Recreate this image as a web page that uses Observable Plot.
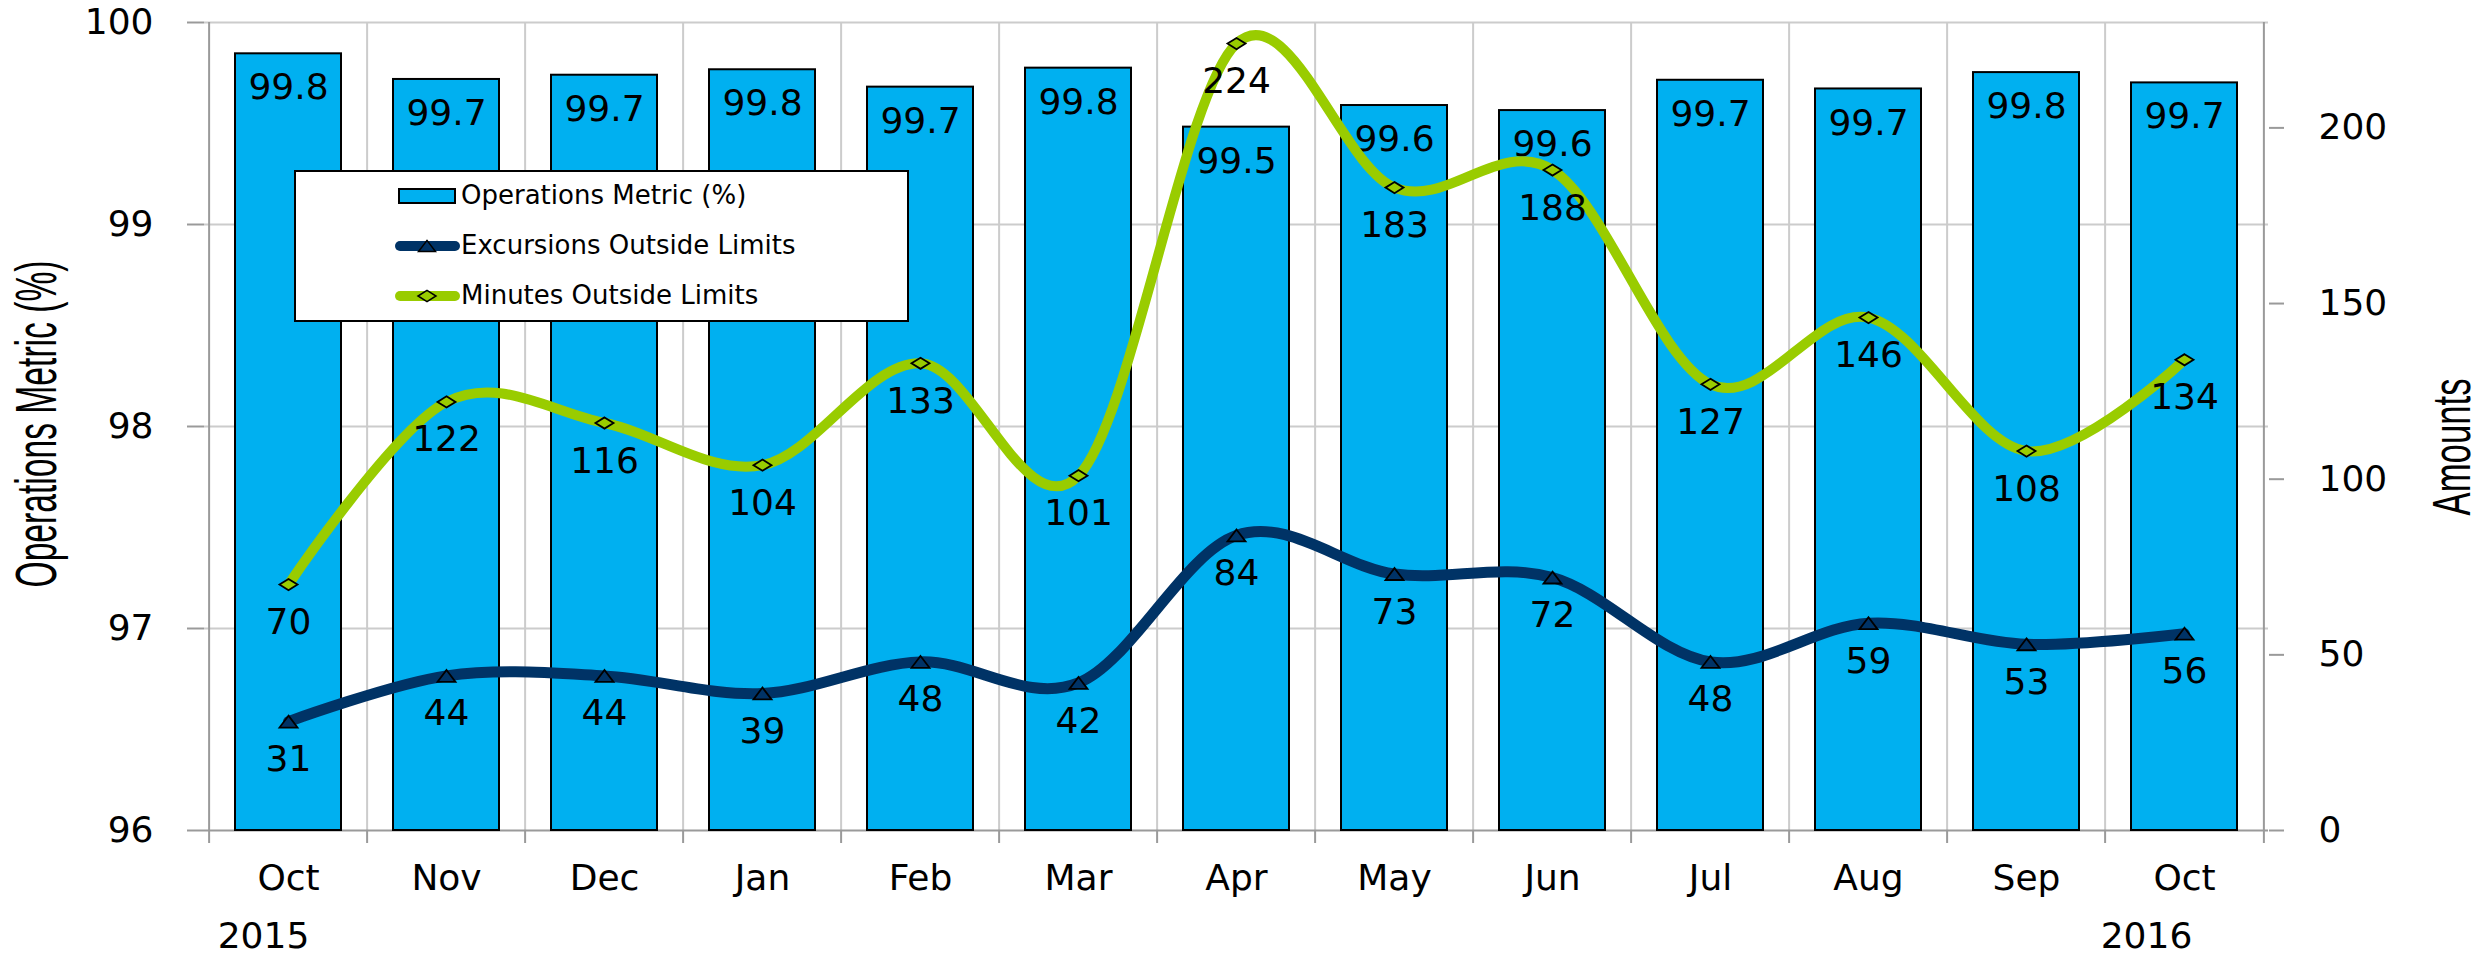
<!DOCTYPE html>
<html><head><meta charset="utf-8">
<script src="https://cdn.jsdelivr.net/npm/d3@7"></script>
<script src="https://cdn.jsdelivr.net/npm/@observablehq/plot@0.6"></script>
<style>body{margin:0;background:#fff} #chart svg{display:block}</style>
</head><body><div id="chart"></div>
<script>
// ---- data ----
const months = ["Oct","Nov","Dec","Jan","Feb","Mar","Apr","May","Jun","Jul","Aug","Sep","Oct"];
const years = ["2015","","","","","","","","","","","","2016"];
const metric = [99.845,99.718,99.739,99.766,99.680,99.774,99.482,99.589,99.564,99.714,99.671,99.752,99.701];
const excursions = [31,44,44,39,48,42,84,73,72,48,59,53,56];
const minutes = [70,122,116,104,133,101,224,183,188,127,146,108,134];
const leftTicks = [96,97,98,99,100];
const rightTicks = [0,50,100,150,200];
const seriesNames = ["Operations Metric (%)","Excursions Outside Limits","Minutes Outside Limits"];
const yTitleLeft = "Operations Metric (%)";
const yTitleRight = "Amounts";

// ---- layout ----
const W = 2491, H = 956, mL = 204, mR = 223, mT = 22, mB = 126;
const leftDomain = [96, 100], rightDomain = [0, 230];
const toLeft = v => leftDomain[0] + (v - rightDomain[0]) * (leftDomain[1] - leftDomain[0]) / (rightDomain[1] - rightDomain[0]);
const fromLeft = d => Math.round(rightDomain[0] + (d - leftDomain[0]) * (rightDomain[1] - rightDomain[0]) / (leftDomain[1] - leftDomain[0]));
const keys = months.map((m, i) => i);
const rows = months.map((m, i) => ({key: i, month: m, year: years[i], metric: metric[i], exc: excursions[i], min: minutes[i]}));
const step = (W - mL - mR) / months.length;
const pxPerUnit = (H - mT - mB) / (leftDomain[1] - leftDomain[0]);
const xTickLen = 13;

const BLUE = "#00B0F0", NAVY = "#003366", GREEN = "#99CC00", GRID = "#cccccc", AXIS = "#9a9a9a";
const FONT = "DejaVu Sans";

const wideDiamond = {draw(ctx, size) { const r = Math.sqrt(size / Math.PI); const w = r, h = r * 0.62;
  ctx.moveTo(0, -h); ctx.lineTo(w, 0); ctx.lineTo(0, h); ctx.lineTo(-w, 0); ctx.closePath(); }};
const wideTriangle = {draw(ctx, size) { const r = Math.sqrt(size / Math.PI); const w = r, h = r * 0.66;
  ctx.moveTo(0, -h); ctx.lineTo(w, h); ctx.lineTo(-w, h); ctx.closePath(); }};

const first = rows.filter(d => d.key === 0);
const last = rows.filter(d => d.key === rows.length - 1);

const plot = Plot.plot({
  width: W, height: H,
  marginLeft: mL, marginRight: mR, marginTop: mT, marginBottom: mB,
  style: {fontFamily: FONT, fontSize: "36px", color: "#000", background: "#fff"},
  x: {type: "band", domain: keys, paddingInner: 0.33, paddingOuter: 0.165, axis: null},
  y: {domain: leftDomain, axis: null},
  marks: [
    // gridlines
    Plot.ruleY(leftTicks.slice(1), {stroke: GRID, strokeWidth: 2}),
    Plot.ruleX(rows.slice(1), {x: "key", dx: -step / 2, stroke: GRID, strokeWidth: 2}),
    // x tick marks below axis
    Plot.ruleX(rows, {x: "key", dx: -step / 2, y1: leftDomain[0], y2: leftDomain[0] - xTickLen / pxPerUnit, stroke: AXIS, strokeWidth: 2}),
    Plot.ruleX(last, {x: "key", dx: step / 2, y1: leftDomain[0], y2: leftDomain[0] - xTickLen / pxPerUnit, stroke: AXIS, strokeWidth: 2}),
    // axis lines
    Plot.ruleX(first, {x: "key", dx: -step / 2, stroke: AXIS, strokeWidth: 2}),
    Plot.ruleX(last, {x: "key", dx: step / 2, stroke: AXIS, strokeWidth: 2}),
    Plot.ruleY([leftDomain[0]], {stroke: AXIS, strokeWidth: 2}),
    // bars
    Plot.barY(rows, {x: "key", y1: leftDomain[0], y2: "metric", fill: BLUE, stroke: "#000", strokeWidth: 2}),
    Plot.text(rows, {x: "key", y: "metric", text: d => d.metric.toFixed(1), lineAnchor: "top", dy: 20, fontSize: 36, fill: "#000"}),
    // lines
    Plot.line(rows, {x: "key", y: d => toLeft(d.exc), curve: "cardinal", stroke: NAVY, strokeWidth: 11}),
    Plot.line(rows, {x: "key", y: d => toLeft(d.min), curve: "cardinal", stroke: GREEN, strokeWidth: 10}),
    Plot.dot(rows, {x: "key", y: d => toLeft(d.exc), symbol: wideTriangle, r: 9, fill: NAVY, stroke: "#000", strokeWidth: 1.8}),
    Plot.dot(rows, {x: "key", y: d => toLeft(d.min), symbol: wideDiamond, r: 9, fill: GREEN, stroke: "#000", strokeWidth: 1.8}),
    Plot.text(rows, {x: "key", y: d => toLeft(d.exc), text: "exc", lineAnchor: "top", dy: 24, fontSize: 36, fill: "#000"}),
    Plot.text(rows, {x: "key", y: d => toLeft(d.min), text: "min", lineAnchor: "top", dy: 24, fontSize: 36, fill: "#000"}),
    // axes
    Plot.axisY(leftTicks, {anchor: "left", tickSize: 17, tickPadding: 34, tickFormat: d => String(d), fontSize: 36, stroke: AXIS, strokeWidth: 2, label: null, fill: "#000"}),
    Plot.axisY(rightTicks.map(toLeft), {anchor: "right", tickSize: 15, tickPadding: 35, tickFormat: fromLeft, fontSize: 36, stroke: AXIS, strokeWidth: 2, label: null, fill: "#000"}),
    Plot.axisX({tickSize: 0, tickPadding: 34, tickFormat: i => months[i], fontSize: 36, label: null, fill: "#000"}),
    Plot.text(first, {x: "key", y: leftDomain[0], text: "year", lineAnchor: "top", dy: 92, dx: -25, fontSize: 36, fill: "#000"}),
    Plot.text(last, {x: "key", y: leftDomain[0], text: "year", lineAnchor: "top", dy: 92, dx: -38, fontSize: 36, fill: "#000"})
  ]
});

document.getElementById("chart").appendChild(plot);

// ---- axis titles & legend ----
const svg = d3.select(plot);
svg.append("text").attr("transform", "translate(56,424) rotate(-90)")
  .attr("text-anchor", "middle").attr("font-family", "Liberation Sans").attr("font-size", 57)
  .attr("textLength", 327).attr("lengthAdjust", "spacingAndGlyphs").attr("fill", "#000").text(yTitleLeft);
svg.append("text").attr("transform", "translate(2470,447) rotate(-90)")
  .attr("text-anchor", "middle").attr("font-family", "Liberation Sans").attr("font-size", 53)
  .attr("textLength", 137).attr("lengthAdjust", "spacingAndGlyphs").attr("fill", "#000").text(yTitleRight);

const lg = svg.append("g").attr("text-anchor", "start");
lg.append("rect").attr("x", 295).attr("y", 171).attr("width", 613).attr("height", 150)
  .attr("fill", "#fff").attr("stroke", "#000").attr("stroke-width", 2);
const rowY = [196, 246, 296];
lg.append("rect").attr("x", 399).attr("y", rowY[0] - 7).attr("width", 56).attr("height", 14)
  .attr("fill", BLUE).attr("stroke", "#000").attr("stroke-width", 2);
[[NAVY, wideTriangle, 8.5], [GREEN, wideDiamond, 9]].forEach(([c, sym, r], k) => {
  const y = rowY[k + 1];
  lg.append("line").attr("x1", 400).attr("x2", 455).attr("y1", y).attr("y2", y)
    .attr("stroke", c).attr("stroke-width", 10).attr("stroke-linecap", "round");
  lg.append("path").attr("transform", `translate(427,${y})`).attr("d", d3.symbol(sym, Math.PI * r * r)())
    .attr("fill", c).attr("stroke", "#000").attr("stroke-width", 1.5);
});
seriesNames.forEach((s, k) => {
  lg.append("text").attr("x", 461).attr("y", rowY[k] + 8).attr("text-anchor", "start")
    .attr("font-family", FONT).attr("font-size", 26).attr("fill", "#000").text(s);
});
</script>
</body></html>
